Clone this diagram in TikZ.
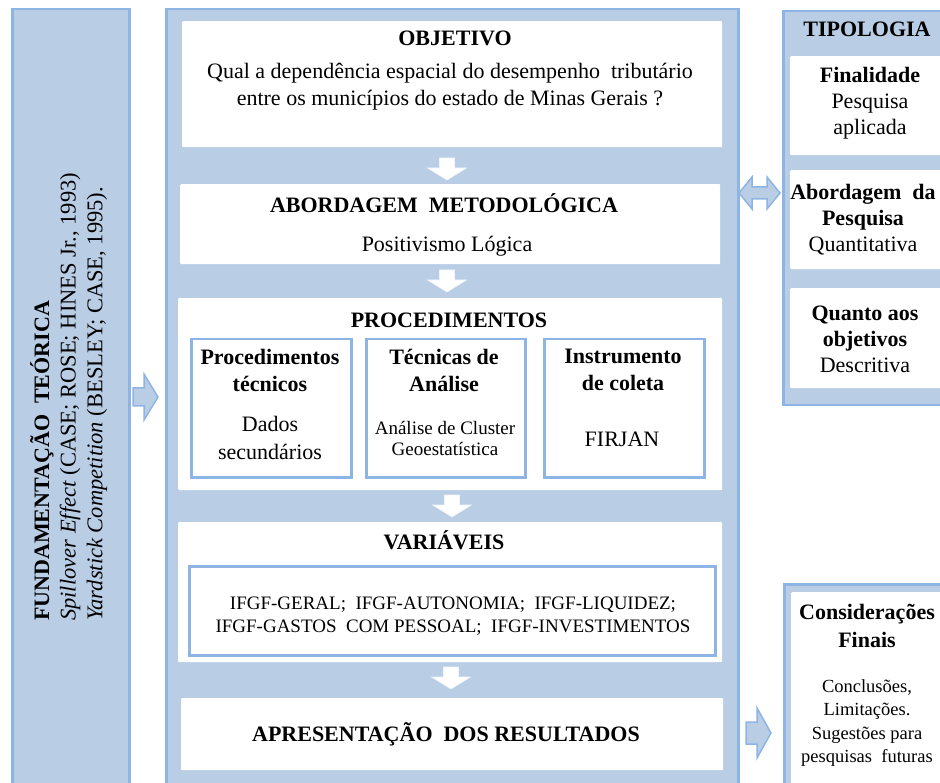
\documentclass[tikz,border=0pt]{standalone}
\usepackage{fontspec}
\setmainfont{Liberation Serif}
\definecolor{lb}{HTML}{B9CDE5}
\definecolor{bd}{HTML}{8EB4E3}
\begin{document}
\begin{tikzpicture}[x=1pt,y=-1pt,
  panel/.style={fill=lb, draw=bd, line width=2.5pt, inner sep=0pt, anchor=north west},
  wbox/.style={fill=white, draw=none, rounded corners=1pt, inner sep=0pt, anchor=north west},
  subbox/.style={fill=white, draw=bd, line width=2.5pt, inner sep=0pt, anchor=north west},
  blockarrow/.style={fill=lb, draw=bd, line width=1.5pt, line join=miter},
  downarrow/.style={fill=white, draw=white!85!bd, line width=0.6pt, line join=miter},
  txt/.style={inner sep=0pt, align=center, font=\fontsize{22}{27}\selectfont},
  small/.style={inner sep=0pt, align=center, font=\fontsize{19}{23}\selectfont},
  rtxt/.style={inner sep=0pt, rotate=90, anchor=west, font=\fontsize{22.5}{27}\selectfont}
]
\useasboundingbox (0,0) rectangle (940,783);
\clip (0,0) rectangle (940,783);

% left column
\node[panel, minimum width=117pt, minimum height=800pt] (left) at (11,8) {};
\node[rtxt, font=\fontsize{22}{27}\selectfont] (fund) at (42,621) {\bfseries FUNDAMENTAÇÃO\ \ TEÓRICA};
\node[rtxt] (spill) at (70,621) {\textit{Spillover Effect} (CASE; ROSE; HINES Jr., 1993)};
\node[rtxt] (yard) at (97,621) {\textit{Yardstick Competition} (BESLEY; CASE, 1995).};

% main column
\node[panel, minimum width=572pt, minimum height=800pt] (main) at (165,8) {};

\node[wbox, minimum width=540pt, minimum height=126pt] (obj) at (182,21) {};
\node[txt] (objt) at (455,38) {\bfseries OBJETIVO};
\node[txt] (objq) at (450,87) {Qual a dependência espacial do desempenho\ \ tributário\\entre os municípios do estado de Minas Gerais ?};

\node[wbox, minimum width=540pt, minimum height=80pt] (abord) at (180,184) {};
\node[txt] (abordt) at (444,203) {\bfseries ABORDAGEM\ \ METODOLÓGICA};
\node[txt] (abordp) at (447,246) {Positivismo Lógica};

\node[wbox, minimum width=544pt, minimum height=192pt] (proc) at (178,298) {};
\node[txt] (proct) at (449,320) {\bfseries PROCEDIMENTOS};
\node[subbox, minimum width=160pt, minimum height=138pt] (pt) at (190,338) {};
\node[subbox, minimum width=159pt, minimum height=138pt] (ta) at (365,338) {};
\node[subbox, minimum width=160pt, minimum height=138pt] (ic) at (543,338) {};
\node[txt] (ptt) at (270,370) {\bfseries Procedimentos\\\bfseries técnicos};
\node[txt, font=\fontsize{22}{28}\selectfont] (ptd) at (270,438) {Dados\\secundários};
\node[txt] (tat) at (444,370) {\bfseries Técnicas de\\\bfseries Análise};
\node[small, font=\fontsize{19}{21}\selectfont] (tad) at (445,438) {Análise de Cluster\\Geoestatística};
\node[txt] (ict) at (623,370) {\bfseries Instrumento\\\bfseries de coleta};
\node[txt] (icd) at (622,439) {FIRJAN};

\node[wbox, minimum width=544pt, minimum height=140pt] (var) at (178,522) {};
\node[txt] (vart) at (444,540) {\bfseries VARIÁVEIS};
\node[subbox, minimum width=526pt, minimum height=89pt] (varin) at (188,565) {};
\node[small] (vard) at (453,616) {IFGF-GERAL;\ \ IFGF-AUTONOMIA;\ \ IFGF-LIQUIDEZ;\\IFGF-GASTOS\ \ COM PESSOAL;\ \ IFGF-INVESTIMENTOS};

\node[wbox, minimum width=542pt, minimum height=72pt] (apres) at (181,698) {};
\node[txt] (aprest) at (446,734) {\bfseries APRESENTAÇÃO\ \ DOS RESULTADOS};

% down arrows
\foreach \cx/\ty in {447/158, 447/270, 452/495, 451/667}{
  \draw[downarrow] (\cx-7.5,\ty) -- (\cx+7.5,\ty) -- (\cx+7.5,\ty+10) -- (\cx+19.5,\ty+10)
     -- (\cx,\ty+22) -- (\cx-19.5,\ty+10) -- (\cx-7.5,\ty+10) -- cycle;
}

% tipologia
\node[panel, minimum width=200pt, minimum height=394pt] (tipo) at (782,10) {};
\node[txt] (tipot) at (867,29) {\bfseries TIPOLOGIA};
\node[wbox, minimum width=180pt, minimum height=99pt] (fin) at (790,56) {};
\node[wbox, minimum width=180pt, minimum height=99pt] (abp) at (790,170) {};
\node[wbox, minimum width=180pt, minimum height=100pt] (qao) at (790,288) {};
\node[txt, font=\fontsize{22}{26}\selectfont] (fint) at (870,103) {\bfseries Finalidade\\Pesquisa\\aplicada};
\node[txt, font=\fontsize{22}{26}\selectfont] (abpt) at (863,220) {\bfseries Abordagem\ \ da\\\bfseries Pesquisa\\Quantitativa};
\node[txt, font=\fontsize{22}{26}\selectfont] (qaot) at (865,339) {\bfseries Quanto aos\\\bfseries objetivos\\Descritiva};

% consideracoes
\node[panel, minimum width=200pt, minimum height=250pt] (cons) at (783,583) {};
\node[wbox, minimum width=180pt, minimum height=250pt] (consin) at (791,592) {};
\node[txt, font=\fontsize{22}{28}\selectfont] (const) at (867,626) {\bfseries Considerações\\\bfseries Finais};
\node[small, font=\fontsize{18.5}{23.3}\selectfont] (consd) at (867,723) {Conclusões,\\Limitações.\\Sugestões para\\pesquisas\ \ futuras};

% block arrows
\draw[blockarrow] (133,388) -- (144,388) -- (144,374) -- (158,397) -- (144,420) -- (144,406) -- (133,406) -- cycle;
\draw[blockarrow] (746,722) -- (757,722) -- (757,708) -- (771,733) -- (757,758) -- (757,744) -- (746,744) -- cycle;
\draw[blockarrow] (739,193) -- (752,177) -- (752,187) -- (767,187) -- (767,177) -- (780,193)
   -- (767,209) -- (767,199) -- (752,199) -- (752,209) -- cycle;
\end{tikzpicture}
\end{document}
